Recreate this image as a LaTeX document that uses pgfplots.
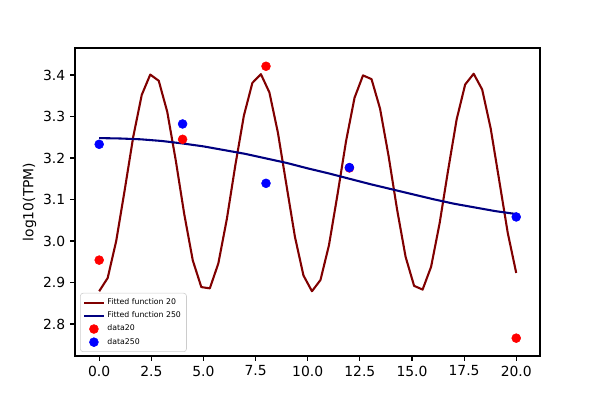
\documentclass[border=0pt]{standalone}
\usepackage{fontspec}
\setmainfont{DejaVu Sans}
\usepackage{pgfplots}
\pgfplotsset{compat=1.18}
\definecolor{dred}{RGB}{128,0,0}
\definecolor{dblue}{RGB}{0,0,128}
\definecolor{lgray}{RGB}{204,204,204}
\begin{document}
\begin{tikzpicture}
\useasboundingbox (0,0) rectangle (432pt,288pt);
\begin{axis}[
  at={(54pt,31.68pt)}, anchor=south west,
  scale only axis, width=334.8pt, height=221.76pt,
  xmin=-1.16, xmax=21.14, ymin=2.723, ymax=3.465,
  xtick={0,2.5,5,7.5,10,12.5,15,17.5,20},
  ytick={2.8,2.9,3.0,3.1,3.2,3.3,3.4},
  xticklabel style={/pgf/number format/.cd,fixed,fixed zerofill,precision=1},
  yticklabel style={/pgf/number format/.cd,fixed,fixed zerofill,precision=1},
  /pgf/number format/assume math mode=true,
  tick align=outside, major tick length=3.5pt,
  tick style={black, line width=0.8pt},
  axis line style={line width=0.8pt},
  tick label style={font=\fontsize{10}{12}\selectfont},
  xtick pos=bottom, ytick pos=left,
  ylabel={log10(TPM)},
  ylabel style={font=\fontsize{10}{12}\selectfont, yshift=-2pt},
  legend style={at={(0.011,0.013)}, anchor=south west,
    font=\fontsize{5.6}{7}\selectfont, draw=lgray, rounded corners=2pt,
    fill=white, row sep=-0.3pt, inner sep=2pt},
  legend image code/.code={\draw[mark repeat=2,mark phase=2,#1] plot coordinates {(0pt,0pt)(7pt,0pt)(14pt,0pt)};},
  legend cell align=left,
]
\addplot[dred, line width=1.5pt, line join=round] coordinates {
(0.000,2.879)(0.408,2.911)(0.816,3.000)(1.224,3.123)(1.633,3.251)(2.041,3.352)
(2.449,3.401)(2.857,3.386)(3.265,3.311)(3.673,3.194)(4.082,3.064)(4.490,2.953)
(4.898,2.889)(5.306,2.886)(5.714,2.946)(6.122,3.053)(6.531,3.183)(6.939,3.302)
(7.347,3.381)(7.755,3.402)(8.163,3.358)(8.571,3.261)(8.980,3.135)(9.388,3.010)
(9.796,2.917)(10.204,2.879)(10.612,2.906)(11.020,2.990)(11.429,3.112)(11.837,3.240)
(12.245,3.345)(12.653,3.399)(13.061,3.390)(13.469,3.319)(13.878,3.205)(14.286,3.076)
(14.694,2.962)(15.102,2.892)(15.510,2.883)(15.918,2.938)(16.327,3.043)(16.735,3.171)
(17.143,3.293)(17.551,3.377)(17.959,3.403)(18.367,3.365)(18.776,3.271)(19.184,3.146)
(19.592,3.020)(20.000,2.923)
};
\addlegendentry{Fitted function 20}
\addplot[dblue, line width=1.5pt, line join=round] coordinates {
(0,3.248)(1,3.247)(2,3.245)(3,3.241)(4,3.235)(5,3.228)(6,3.219)(7,3.210)
(8,3.199)(9,3.188)(10,3.175)(11,3.163)(12,3.150)(13,3.137)(14,3.125)
(15,3.113)(16,3.101)(17,3.090)(18,3.081)(19,3.072)(20,3.065)
};
\addlegendentry{Fitted function 250}
\addplot[only marks, mark=*, mark size=3.2pt, red, mark options={draw=red, fill=red}] coordinates {
(0,2.954)(4,3.245)(8,3.421)(12,3.176)(20,2.766)
};
\addlegendentry{data20}
\addplot[only marks, mark=*, mark size=3.2pt, blue, mark options={draw=blue, fill=blue}] coordinates {
(0,3.233)(4,3.282)(8,3.139)(12,3.177)(20,3.058)
};
\addlegendentry{data250}
\end{axis}
\end{tikzpicture}
\end{document}
